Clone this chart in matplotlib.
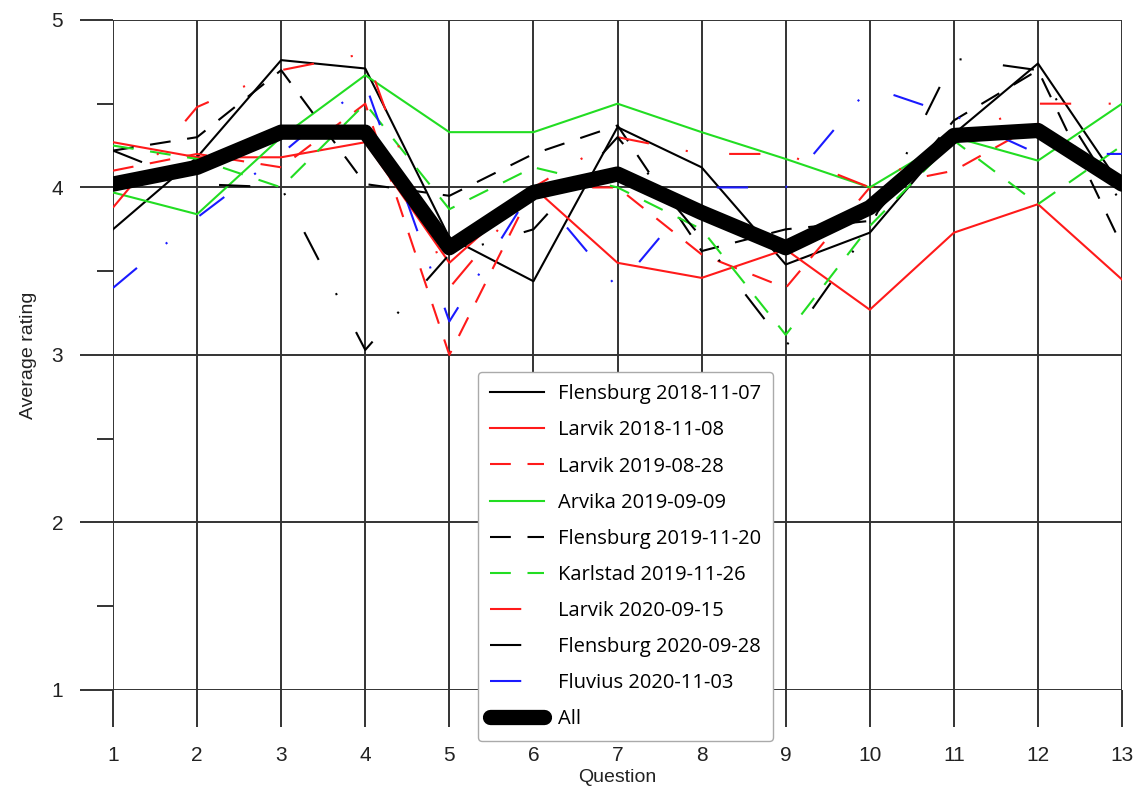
import matplotlib
matplotlib.use('Agg')
import matplotlib.pyplot as plt
import numpy as np

questions = list(range(1, 14))

flensburg_2018 = [3.75, 4.18, 4.76, 4.71, 3.70, 3.44, 4.36, 4.12, 3.54, 3.73, 4.32, 4.74, 4.00]
larvik_2018 = [4.27, 4.18, 4.18, 4.27, 3.55, 4.00, 3.55, 3.46, 3.63, 3.27, 3.73, 3.90, 3.45]
larvik_2019 = [4.10, 4.20, 4.12, 4.50, 3.00, 4.00, 4.00, 3.60, 3.40, 4.00, 4.10, 4.38, 4.05]
arvika_2019 = [3.97, 3.84, 4.30, 4.67, 4.33, 4.33, 4.50, 4.33, 4.17, 4.00, 4.30, 4.16, 4.50]
flensburg_2019 = [4.22, 4.30, 4.70, 4.02, 3.95, 4.20, 4.37, 3.62, 3.75, 3.80, 4.40, 4.70, 3.65]
karlstad_2019 = [4.25, 4.17, 4.00, 4.50, 3.87, 4.12, 4.00, 3.75, 3.12, 3.77, 4.28, 3.90, 4.25]
larvik_2020 = [3.88, 4.48, 4.70, 4.80, 3.40, 4.00, 4.30, 4.20, 4.20, 4.00, 4.30, 4.50, 4.50]
flensburg_2020 = [4.22, 4.02, 4.00, 3.03, 3.60, 3.75, 4.30, 3.70, 3.05, 3.76, 4.77, 4.70, 3.90]
fluvius_2020 = [3.40, 3.82, 4.20, 4.62, 3.20, 4.00, 3.40, 4.00, 4.00, 4.60, 4.43, 4.20, 4.20]
all_avg = [4.02, 4.12, 4.33, 4.33, 3.64, 3.97, 4.08, 3.85, 3.64, 3.88, 4.31, 4.34, 4.02]

dash = (0, (10, 8))
dashdot = (0, (15, 18, 1, 20))

series = [
    ('Flensburg 2018-11-07', flensburg_2018, 'black', '-'),
    ('Larvik 2018-11-08', larvik_2018, '#ff1a1a', '-'),
    ('Larvik 2019-08-28', larvik_2019, '#ff1a1a', dash),
    ('Arvika 2019-09-09', arvika_2019, '#22dd22', '-'),
    ('Flensburg 2019-11-20', flensburg_2019, 'black', dash),
    ('Karlstad 2019-11-26', karlstad_2019, '#22dd22', dash),
    ('Larvik 2020-09-15', larvik_2020, '#ff1a1a', dashdot),
    ('Flensburg 2020-09-28', flensburg_2020, 'black', dashdot),
    ('Fluvius 2020-11-03', fluvius_2020, '#1a1aff', dashdot),
]

fig = plt.figure(figsize=(11.38, 7.97), dpi=100)
ax = fig.add_axes([0.0993, 0.1343, 0.8867, 0.8407])

for name, vals, col, ls in series:
    ax.plot(questions, vals, color=col, linestyle=ls, linewidth=1.5, label=name)

ax.plot(questions, all_avg, color='black', linewidth=11, solid_capstyle='round',
        solid_joinstyle='round', label='All', zorder=5)

ax.set_xlim(1, 13)
ax.set_ylim(1, 5)
ax.set_xticks(questions)
ax.set_yticks([1, 2, 3, 4, 5])
ax.set_yticks([1.5, 2.5, 3.5, 4.5], minor=True)
ax.grid(True, which='major', color='#333333', linewidth=1.4)
for s in ax.spines.values():
    s.set_visible(False)
ax.tick_params(axis='x', which='major', length=26.5, width=1.4, color='#333333',
               labelsize=15, pad=14)
ax.tick_params(axis='y', which='major', length=24, width=1.4, color='#333333',
               labelsize=15, pad=12)
ax.tick_params(axis='y', which='minor', length=11.5, width=1.4, color='#333333')
for lab in ax.get_xticklabels() + ax.get_yticklabels():
    lab.set_fontfamily('Liberation Sans')
    lab.set_color('#222222')

ax.set_xlabel('Question', fontsize=14, family='Liberation Sans', labelpad=3, color='#222222')
ax.set_ylabel('Average rating', fontsize=14, family='Liberation Sans', labelpad=10, color='#222222')

leg = ax.legend(loc='upper left', bbox_to_anchor=(0.42, 0.533), bbox_transform=fig.transFigure,
                borderaxespad=0,
                prop={'family': 'Open Sans', 'size': 14.5}, frameon=True, fancybox=True,
                edgecolor='#aaaaaa', framealpha=1, handlelength=2.7, labelspacing=0.8,
                borderpad=0.6, handletextpad=0.65)
leg.set_zorder(10)

fig.savefig('out.png', dpi=100)
